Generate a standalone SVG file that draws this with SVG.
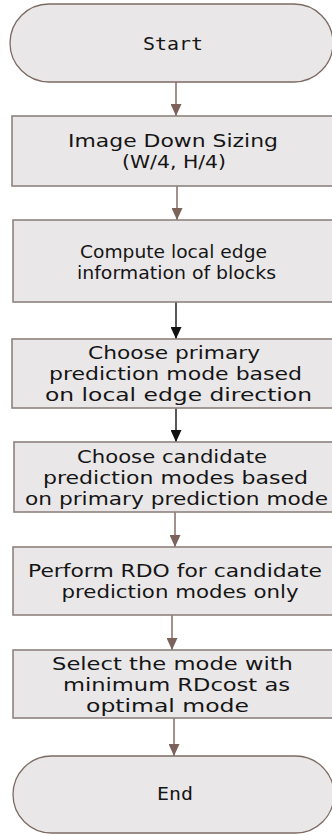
<svg xmlns="http://www.w3.org/2000/svg" width="332" height="835" viewBox="0 0 332 835">
  <style>
    .term { fill: #e9e7e8; stroke: #7d6a63; stroke-width: 1.3; }
    .box { fill: #e9e7e8; stroke: #8e827d; stroke-width: 1.6; }
    .lbl { font-family: "DejaVu Sans", Verdana, sans-serif; font-size: 18px; fill: #151515; text-anchor: middle; }
    .mono { font-family: "DejaVu Sans Mono", "Liberation Mono", monospace; font-size: 17.5px; fill: #151515; text-anchor: middle; }
    .edge { stroke: #7b625a; stroke-width: 1.4; fill: none; }
    .edge.dark { stroke: #111111; }
  </style>
  <defs>
    <marker id="head" viewBox="0 0 12 11" refX="12" refY="5.5" markerWidth="12" markerHeight="11" markerUnits="userSpaceOnUse" orient="auto">
      <path d="M0,0 L12,5.5 L0,11 z" fill="#7b625a"/>
    </marker>
    <marker id="headDark" viewBox="0 0 12 11" refX="12" refY="5.5" markerWidth="12" markerHeight="11" markerUnits="userSpaceOnUse" orient="auto">
      <path d="M0,0 L12,5.5 L0,11 z" fill="#111111"/>
    </marker>
  </defs>

  <g id="connectors">
    <line class="edge" x1="176" y1="82" x2="176" y2="116" marker-end="url(#head)"/>
    <line class="edge" x1="177" y1="186" x2="177" y2="220" marker-end="url(#head)"/>
    <line class="edge dark" x1="176" y1="302" x2="176" y2="339" marker-end="url(#headDark)"/>
    <line class="edge dark" x1="176" y1="408" x2="176" y2="442" marker-end="url(#headDark)"/>
    <line class="edge" x1="175" y1="512" x2="175" y2="547" marker-end="url(#head)"/>
    <line class="edge" x1="172" y1="615" x2="172" y2="650" marker-end="url(#head)"/>
    <line class="edge" x1="174" y1="718" x2="174" y2="756" marker-end="url(#head)"/>
  </g>

  <g id="start">
    <rect class="term" x="10" y="4" width="323" height="78" rx="39" ry="39"/>
    <text class="mono" x="173" y="50" textLength="60" lengthAdjust="spacingAndGlyphs">Start</text>
  </g>

  <g id="downsize">
    <rect class="box" x="12" y="116" width="326" height="70"/>
    <text class="lbl" x="173" y="146.5" textLength="210" lengthAdjust="spacingAndGlyphs">Image Down Sizing</text>
    <text class="lbl" x="174" y="167.5" textLength="104" lengthAdjust="spacingAndGlyphs">(W/4, H/4)</text>
  </g>

  <g id="edge-info">
    <rect class="box" x="13" y="220" width="325" height="82"/>
    <text class="lbl" x="173.5" y="257.5" textLength="187" lengthAdjust="spacingAndGlyphs">Compute local edge</text>
    <text class="lbl" x="176.5" y="279" textLength="199" lengthAdjust="spacingAndGlyphs">information of blocks</text>
  </g>

  <g id="primary-mode">
    <rect class="box" x="12" y="339" width="326" height="69"/>
    <text class="lbl" x="174" y="358.5" textLength="172" lengthAdjust="spacingAndGlyphs">Choose primary</text>
    <text class="lbl" x="175.5" y="379.5" textLength="253" lengthAdjust="spacingAndGlyphs">prediction mode based</text>
    <text class="lbl" x="178.5" y="400.5" textLength="267" lengthAdjust="spacingAndGlyphs">on local edge direction</text>
  </g>

  <g id="candidate-modes">
    <rect class="box" x="14" y="442" width="324" height="70"/>
    <text class="lbl" x="172" y="462.5" textLength="190" lengthAdjust="spacingAndGlyphs">Choose candidate</text>
    <text class="lbl" x="175.5" y="483.5" textLength="265" lengthAdjust="spacingAndGlyphs">prediction modes based</text>
    <text class="lbl" x="176.5" y="504.5" textLength="303" lengthAdjust="spacingAndGlyphs">on primary prediction mode</text>
  </g>

  <g id="rdo">
    <rect class="box" x="13" y="547" width="325" height="68"/>
    <text class="lbl" x="175" y="576.5" textLength="294" lengthAdjust="spacingAndGlyphs">Perform RDO for candidate</text>
    <text class="lbl" x="180" y="597.5" textLength="237" lengthAdjust="spacingAndGlyphs">prediction modes only</text>
  </g>

  <g id="select-mode">
    <rect class="box" x="13" y="650" width="325" height="68"/>
    <text class="lbl" x="172.5" y="670" textLength="241" lengthAdjust="spacingAndGlyphs">Select the mode with</text>
    <text class="lbl" x="176.5" y="691" textLength="227" lengthAdjust="spacingAndGlyphs">minimum RDcost as</text>
    <text class="lbl" x="167.5" y="712" textLength="163" lengthAdjust="spacingAndGlyphs">optimal mode</text>
  </g>

  <g id="end">
    <rect class="term" x="13" y="756" width="321" height="77" rx="38.5" ry="38.5"/>
    <text class="mono" x="175" y="800" textLength="36" lengthAdjust="spacingAndGlyphs">End</text>
  </g>
</svg>
